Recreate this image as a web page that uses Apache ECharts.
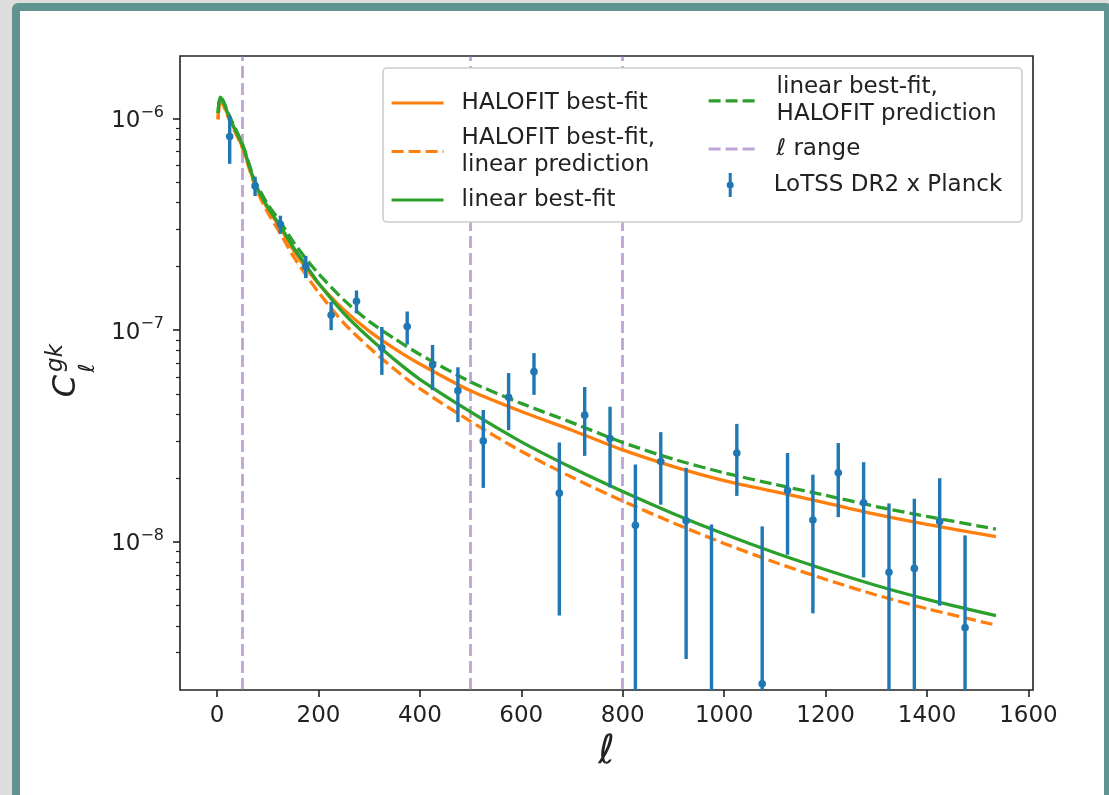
<!DOCTYPE html>
<html><head><meta charset="utf-8">
<script src="https://cdn.jsdelivr.net/npm/echarts@6/dist/echarts.min.js"></script>
<style>
html,body{margin:0;padding:0;width:1109px;height:795px;overflow:hidden;background:#dddddd;}
#frame{position:absolute;left:12px;top:3px;width:1100px;height:830px;box-sizing:border-box;border:8px solid #5f9490;border-radius:6px;background:#fff;}
#chart{position:absolute;left:0;top:0;width:1109px;height:795px;}
</style></head><body><div id="frame"></div><div id="chart"></div>
<script>
// ---- data ----
const ellData = [25,75,125,175,225,275,325,375,425,475,525,575,625,675,725,775,825,875,925,975,1025,1075,1125,1175,1225,1275,1325,1375,1425,1475];
const clData  = [8.2e-7,4.8e-7,3.16e-7,2.0e-7,1.18e-7,1.37e-7,8.25e-8,1.04e-7,6.86e-8,5.18e-8,3.0e-8,4.82e-8,6.37e-8,1.70e-8,3.97e-8,3.08e-8,1.2e-8,2.4e-8,1.26e-8,1.5e-9,2.63e-8,2.14e-9,1.75e-8,1.27e-8,2.12e-8,1.53e-8,7.2e-9,7.5e-9,1.25e-8,3.94e-9];
const clErr   = [2.1e-7,5.0e-8,3.1e-8,2.4e-8,1.8e-8,1.7e-8,2.1e-8,1.85e-8,1.65e-8,1.5e-8,1.2e-8,1.45e-8,1.42e-8,1.25e-8,1.42e-8,1.27e-8,1.12e-8,0.9e-8,0.98e-8,1.06e-8,0.98e-8,0.97e-8,0.88e-8,0.81e-8,0.81e-8,0.85e-8,0.8e-8,0.85e-8,0.75e-8,0.68e-8];

const ellModel = [2,6,12,25,50,75,100,125,150,175,200,250,300,350,400,500,600,700,800,900,1000,1100,1200,1300,1400,1536];
const halofitBest    = [9.90e-7,1.22e-6,1.17e-6,9.94e-7,7.33e-7,4.89e-7,3.74e-7,3.04e-7,2.40e-7,1.97e-7,1.66e-7,1.25e-7,9.90e-8,8.18e-8,6.92e-8,5.17e-8,4.13e-8,3.37e-8,2.72e-8,2.27e-8,1.95e-8,1.73e-8,1.53e-8,1.35e-8,1.21e-8,1.06e-8];
const halofitLinPred = [9.90e-7,1.21e-6,1.16e-6,9.72e-7,7.25e-7,4.80e-7,3.59e-7,2.86e-7,2.24e-7,1.83e-7,1.51e-7,1.08e-7,8.29e-8,6.54e-8,5.29e-8,3.71e-8,2.68e-8,2.02e-8,1.56e-8,1.23e-8,9.84e-9,8.02e-9,6.66e-9,5.62e-9,4.84e-9,4.05e-9];
const linearBest     = [1.06e-6,1.26e-6,1.21e-6,1.00e-6,7.49e-7,4.95e-7,3.81e-7,3.10e-7,2.47e-7,2.03e-7,1.67e-7,1.20e-7,9.20e-8,7.26e-8,5.86e-8,4.11e-8,2.97e-8,2.24e-8,1.73e-8,1.36e-8,1.09e-8,8.89e-9,7.39e-9,6.23e-9,5.36e-9,4.49e-9];
const linearHaloPred = [1.06e-6,1.26e-6,1.21e-6,1.02e-6,7.57e-7,5.06e-7,3.93e-7,3.24e-7,2.62e-7,2.18e-7,1.85e-7,1.39e-7,1.10e-7,9.12e-8,7.68e-8,5.70e-8,4.51e-8,3.66e-8,2.95e-8,2.46e-8,2.12e-8,1.87e-8,1.66e-8,1.47e-8,1.32e-8,1.15e-8];

const ellRange = [50, 500, 800];
const xTicks = [0,200,400,600,800,1000,1200,1400,1600];
const yMajor = [1e-8,1e-7,1e-6];
const yMinor = [3e-9,4e-9,5e-9,6e-9,7e-9,8e-9,9e-9,2e-8,3e-8,4e-8,5e-8,6e-8,7e-8,8e-8,9e-8,2e-7,3e-7,4e-7,5e-7,6e-7,7e-7,8e-7,9e-7];

const N_OS='HALOFIT best-fit', N_OD='HALOFIT best-fit,\nlinear prediction', N_GS='linear best-fit',
      N_GD='linear best-fit,\nHALOFIT prediction', N_R='ℓ range', N_D='LoTSS DR2 x Planck';

// ---- styling ----
const FONT='DejaVu Sans', TXT='#222';
const ORANGE='#ff7f0e', GREEN='#2ca02c', BLUE='#1f77b4', PURPLE='rgba(148,103,189,0.6)';
const DASH=[12,5], LW=3.3;
const zip = (xs, ys) => xs.map((x,i)=>[x, ys[i]]);

function curve(name, ys, color, dashed){
  return {name, type:'line', data: zip(ellModel, ys), symbol:'none', smooth:0.25, clip:true, z:2,
    color, lineStyle:{color, width:LW, type: dashed?DASH:'solid'}};
}

const ts = {fontSize:23, fontFamily:FONT, color:TXT, lineHeight:27};
function leg(name, left, top, itemWidth, pad, extra){
  return Object.assign({data:[name], left, top, itemWidth, itemHeight:14, padding:0, selectedMode:false, z:11,
    itemStyle:{opacity:0, borderWidth:0}, lineStyle:{width:3.2},
    textStyle:Object.assign({}, ts, {padding:[0,0,0,pad]})}, extra||{});
}

const chart = echarts.init(document.getElementById('chart'), null, {renderer:'canvas'});
chart.setOption({
  animation:false,
  grid:{left:180, top:56, width:853, height:634, show:true, borderColor:TXT, borderWidth:1.6, backgroundColor:'transparent'},
  xAxis:{type:'value', min:-73, max:1609,
    axisLine:{show:false, onZero:false}, splitLine:{show:false},
    axisTick:{show:true, length:7, lineStyle:{color:TXT, width:1.6}, customValues:xTicks},
    axisLabel:{customValues:xTicks, fontSize:23, fontFamily:FONT, color:TXT, margin:15, formatter: v => String(v)},
    name:'ℓ', nameLocation:'middle', nameGap:42,
    nameTextStyle:{fontSize:40, fontStyle:'italic', fontFamily:FONT, color:TXT}},
  yAxis:[
    {type:'log', logBase:10, min:2e-9, max:1.97e-6, position:'left',
     axisLine:{show:false, onZero:false}, splitLine:{show:false},
     axisTick:{show:true, length:7, lineStyle:{color:TXT, width:1.6}, customValues:yMajor},
     axisLabel:{customValues:yMajor, margin:16,
       formatter: v => '{b|10}{e|−' + (-Math.round(Math.log10(v))) + '}',
       rich:{b:{fontSize:23, fontFamily:FONT, color:TXT, lineHeight:28, verticalAlign:'bottom'},
             e:{fontSize:16, fontFamily:FONT, color:TXT, lineHeight:16, verticalAlign:'top'}}}},
    {type:'log', logBase:10, min:2e-9, max:1.97e-6, position:'left',
     axisLine:{show:false, onZero:false}, splitLine:{show:false}, axisLabel:{show:false},
     axisTick:{show:true, length:4, lineStyle:{color:TXT, width:1.2}, customValues:yMinor}}
  ],
  legend:[
    leg(N_OS, 390, 89.5, 52, 13),
    leg(N_OD, 390, 124.5, 52, 13),
    leg(N_GS, 390, 186.5, 52, 13),
    leg(N_GD, 707, 73.8, 48, 15),
    leg(N_R, 707, 135.5, 48, 15, {formatter: () => '{i|ℓ} range',
        textStyle:Object.assign({}, ts, {padding:[0,0,0,15], rich:{i:{fontSize:23, fontFamily:FONT, fontStyle:'italic', color:TXT}}})}),
    Object.assign(leg(N_D, 726.7, 171.5, 7, 35), {itemHeight:24, itemStyle:{},
      data:[{name:N_D, icon:'path://M2.5,0 L5.5,0 L5.5,9 L2.5,9 Z M2.5,15 L5.5,15 L5.5,24 L2.5,24 Z M4,8.5 A3.5,3.5 0 1,1 4,15.5 A3.5,3.5 0 1,1 4,8.5 Z'}]})
  ],
  graphic:[
    {type:'rect', shape:{x:383, y:68, width:639, height:154, r:4}, style:{fill:'#fff', stroke:'#cccccc', lineWidth:1.6}, z:10},
    {type:'text', x:67, y:386, rotation:Math.PI/2, z:10, style:{text:'C', font:'italic 32px "DejaVu Sans"', fill:TXT, align:'center', verticalAlign:'middle'}},
    {type:'text', x:56, y:358, rotation:Math.PI/2, z:10, style:{text:'gk', font:'italic 23px "DejaVu Sans"', fill:TXT, align:'center', verticalAlign:'middle'}},
    {type:'text', x:88, y:368, rotation:Math.PI/2, z:10, style:{text:'ℓ', font:'italic 22px "DejaVu Sans"', fill:TXT, align:'center', verticalAlign:'middle'}}
  ],
  series:[
    {name:N_R, type:'line', data:[], color:PURPLE, symbol:'none', lineStyle:{color:PURPLE, width:2.8, type:DASH},
     markLine:{silent:true, symbol:['none','none'], label:{show:false}, z:1,
       lineStyle:{color:PURPLE, width:2.8, type:DASH}, data: ellRange.map(v=>({xAxis:v}))}},
    curve(N_OS, halofitBest, ORANGE, false),
    curve(N_OD, halofitLinPred, ORANGE, true),
    curve(N_GS, linearBest, GREEN, false),
    curve(N_GD, linearHaloPred, GREEN, true),
    {name:N_D, type:'custom', z:3, clip:true, color:BLUE, itemStyle:{color:BLUE},
     data: ellData.map((l,i)=>[l, clData[i], clErr[i]]),
     encode:{x:0, y:1},
     renderItem:(params, api)=>{
       const x = api.value(0), c = api.value(1), s = api.value(2);
       const cs = params.coordSys;
       const top = api.coord([x, c + s]);
       const lo = c - s;
       const yBot = lo > 0 ? api.coord([x, lo])[1] : cs.y + cs.height;
       const ctr = api.coord([x, c]);
       return {type:'group', children:[
         {type:'line', shape:{x1:top[0], y1:top[1], x2:top[0], y2:Math.min(yBot, cs.y+cs.height)}, style:{stroke:BLUE, lineWidth:3.4}},
         {type:'circle', shape:{cx:ctr[0], cy:ctr[1], r:3.8}, style:{fill:BLUE}}
       ]};
     }}
  ]
});
</script></body></html>
